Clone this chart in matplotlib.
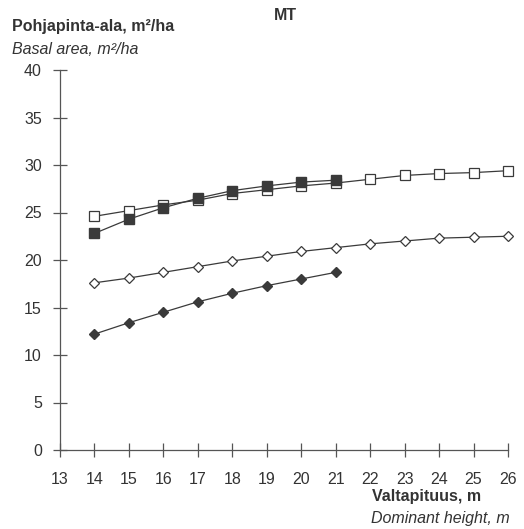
import matplotlib
matplotlib.use("Agg")
import matplotlib.pyplot as plt

plt.rcParams["font.family"] = ["Liberation Sans", "DejaVu Sans"]

height = list(range(14, 27))
height_short = list(range(14, 22))

open_sq = [24.6, 25.2, 25.8, 26.3, 27.0, 27.4, 27.8, 28.1, 28.5, 28.9, 29.1, 29.2, 29.4]
filled_sq = [22.8, 24.3, 25.5, 26.5, 27.3, 27.8, 28.2, 28.4]
open_dia = [17.6, 18.1, 18.7, 19.3, 19.9, 20.4, 20.9, 21.3, 21.7, 22.0, 22.3, 22.4, 22.5]
filled_dia = [12.2, 13.4, 14.5, 15.6, 16.5, 17.3, 18.0, 18.7]

xticks = list(range(13, 27))
yticks = list(range(0, 41, 5))

ink = "#3a3a3a"
W, H = 524, 529
fig = plt.figure(figsize=(W / 100, H / 100), dpi=100)
ax = fig.add_axes([60 / W, 1 - 450 / H, 448 / W, 380 / H])

kw = dict(color=ink, lw=0.9, clip_on=False)
ax.plot(height, open_sq, "-s", mfc="white", mec=ink, ms=6.5, mew=0.9, **kw)
ax.plot(height_short, filled_sq, "-s", mfc=ink, mec=ink, ms=6.5, **kw)
ax.plot(height, open_dia, "-D", mfc="white", mec=ink, ms=5.5, mew=0.9, **kw)
ax.plot(height_short, filled_dia, "-D", mfc=ink, mec=ink, ms=5.5, **kw)

ax.set_xlim(13, 26)
ax.set_ylim(0, 40)
ax.set_xticks(xticks)
ax.set_yticks(yticks)
for s in ("top", "right"):
    ax.spines[s].set_visible(False)
for s in ("left", "bottom"):
    ax.spines[s].set_color("#555555")
    ax.spines[s].set_linewidth(0.9)
ax.tick_params(axis="y", direction="inout", length=10, width=0.9, color="#555555",
               labelsize=11.5, labelcolor="#333333", pad=8)
ax.tick_params(axis="x", direction="inout", length=10, width=0.9, color="#555555",
               labelsize=11.5, labelcolor="#333333", pad=11)

txt = dict(fontsize=11.5, color="#333333", va="center")
fig.text(285 / W, 1 - 15 / H, "MT", fontweight="bold", ha="center", **txt)
fig.text(12 / W, 1 - 27 / H, "Pohjapinta-ala, m²/ha", fontweight="bold", ha="left", **txt)
fig.text(12 / W, 1 - 49 / H, "Basal area, m²/ha", style="italic", ha="left", **txt)
fig.text(481 / W, 1 - 496 / H, "Valtapituus, m", fontweight="bold", ha="right", **txt)
fig.text(510 / W, 1 - 518 / H, "Dominant height, m", style="italic", ha="right", **txt)

fig.savefig("out.png", dpi=100)
